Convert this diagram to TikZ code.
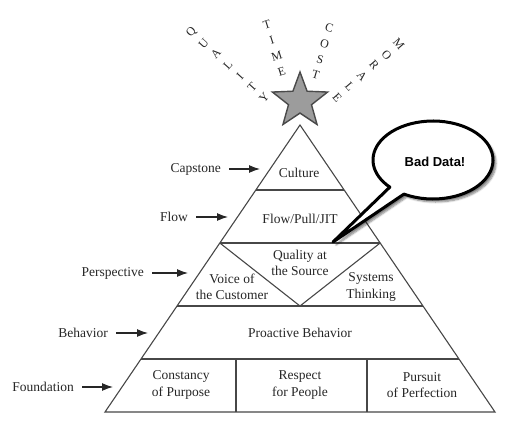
\documentclass[tikz,border=0pt]{standalone}
\usepackage{fontspec}
\usepackage{tikz}
\usetikzlibrary{arrows.meta,calc,shadows.blur,shapes.geometric}
\setmainfont{Liberation Serif}
\newfontfamily\bubblefont{Liberation Sans}
\definecolor{ink}{HTML}{262626}
\definecolor{stargray}{HTML}{9C9C9C}
\definecolor{stardark}{HTML}{4A4A4A}
\tikzset{
  pointer/.style={-{Latex[length=11pt,width=8pt]},line width=1.2pt,draw=ink,shorten <=8pt},
  edge/.style={draw=ink!85,line width=1.1pt},
  tier/.style={align=center,inner sep=0pt,text=ink,font=\fontsize{13.5}{16.5}\selectfont},
  side/.style={tier,anchor=east},
  letter/.style={inner sep=0pt,text=ink,font=\fontsize{12}{12}\selectfont},
  bubble/.style={draw=black,fill=white,line width=3pt,line join=round,
                 blur shadow={shadow xshift=3pt,shadow yshift=-3pt,shadow opacity=50,shadow blur steps=6}}
}

\begin{document}
\begin{tikzpicture}[x=1pt,y=1pt]
  \useasboundingbox (0,0) rectangle (506,-425);
  \coordinate (apex) at (300,-125);
  \coordinate (bl) at (105,-412);
  \coordinate (br) at (495,-412);
  % tiers of the pyramid
  \foreach \t/\n in {0.2265/a,0.4111/b,0.6307/c,0.8153/d}{
    \coordinate (L\n) at ($(apex)!\t!(bl)$);
    \coordinate (R\n) at ($(apex)!\t!(br)$);
  }
  \draw[edge,line join=miter] (apex) -- (bl) -- (br) -- cycle;
  \foreach \n in {a,b,c,d} \draw[edge] (L\n) -- (R\n);
  \coordinate (vtip) at ($(Lc)!0.5!(Rc)$);
  \draw[edge] (Lb) -- (vtip) -- (Rb);
  \draw[edge] (236,-359) -- (236,-412);
  \draw[edge] (367,-359) -- (367,-412);

  \node[tier] (culture) at (299,-173) {Culture};
  \node[tier] (flow) at (300,-219) {Flow/Pull/JIT};
  \node[tier] (quality) at (300,-263) {Quality at\\the Source};
  \node[tier] (voice) at (232,-287) {Voice of\\the Customer};
  \node[tier] (systems) at (371,-287) {Systems\\Thinking};
  \node[tier] (proactive) at (300,-333) {Proactive Behavior};
  \node[tier] (constancy) at (181,-385) {Constancy\\of Purpose};
  \node[tier] (respect) at (300,-385) {Respect\\for People};
  \node[tier] (pursuit) at (422,-385) {Pursuit\\of Perfection};

  % level names on the left
  \foreach \n/\txt/\x/\y/\tip in {capstone/Capstone/221/169/260, flowtag/Flow/188/217/228,
      perspective/Perspective/144/273/188, behavior/Behavior/108/333/148,
      foundation/Foundation/74/387/113}{
    \node[side] (\n) at (\x,-\y) {\txt};
    \coordinate (\n-tip) at (\tip,-\y);
    \draw[pointer] (\n) -- (\n-tip);
  }

  % star and the four words
  \node[star,star points=5,star point ratio=2.4,minimum size=58pt,inner sep=0pt,
        fill=stargray,draw=stardark,line width=1.4pt] (star) at (300,-101) {};
  \coordinate (hub) at (300,-130);
  \foreach \w/\a/\r/\ls in {QUALITY/138/146/{Q,U,A,L,I,T,Y}, TIME/107.5/110/{T,I,M,E},
      COST/74/106/{C,O,S,T}, MORALE/41/131/{M,O,R,A,L,E}}
    \foreach \c [count=\i] in \ls
      \node[letter,rotate=\a-90] (\w-\i) at ($(hub)+(\a:{\r-16.3*(\i-1)})$) {\c};

  % speech bubble
  \coordinate (bub) at (433,-160);
  \coordinate (bubtip) at (333,-242);
  \draw[bubble] (bub) ++(241:60 and 39) arc[start angle=241,end angle=584,x radius=60,y radius=39]
    -- (bubtip) -- cycle;
  \node[font=\bubblefont\bfseries\fontsize{13}{15}\selectfont] (bad) at (435,-162) {Bad Data!};
\end{tikzpicture}
\end{document}
